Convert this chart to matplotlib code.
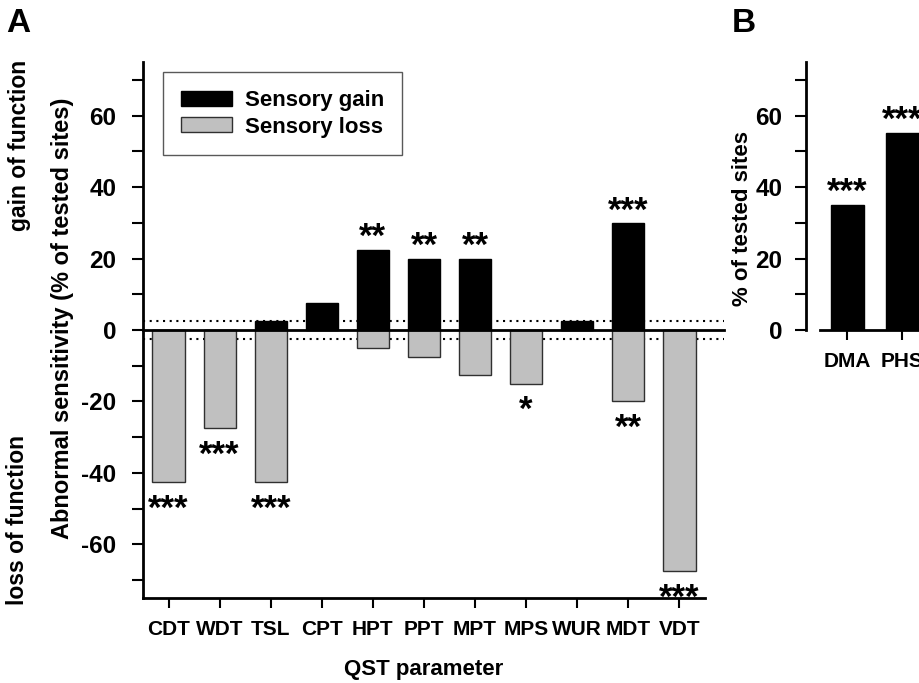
import matplotlib
matplotlib.use("Agg")
import matplotlib.pyplot as plt
from matplotlib.patches import Patch

plt.rcParams['font.family'] = ['Liberation Sans', 'DejaVu Sans']
plt.rcParams['font.weight'] = 'bold'

# ---- data ----
params = ["CDT", "WDT", "TSL", "CPT", "HPT", "PPT", "MPT", "MPS", "WUR", "MDT", "VDT"]
gain = [0, 0, 2.5, 7.5, 22.5, 20, 20, 0, 2.5, 30, 0]
loss = [-42.5, -27.5, -42.5, 0, -5, -7.5, -12.5, -15, 0, -20, -67.5]
gain_sig = ["", "", "", "", "**", "**", "**", "", "", "***", ""]
loss_sig = ["***", "***", "***", "", "", "", "", "*", "", "**", "***"]
threshold = 2.5

b_cats = ["DMA", "PHS"]
b_vals = [35, 55]
b_sig = ["***", "***"]

W, H = 920, 683
fig = plt.figure(figsize=(W / 100, H / 100), dpi=100)

def fx(px):
    return px / W

def fy(py):
    return 1 - py / H

# ---- panel A ----
axA = fig.add_axes([fx(143), fy(598), fx(705) - fx(143), fy(62) - fy(598)])
x = list(range(len(params)))
bw = 0.63
axA.bar(x, gain, width=bw, color="black", edgecolor="black", linewidth=1, zorder=3)
axA.bar(x, loss, width=bw, color="#c0c0c0", edgecolor="#303030", linewidth=1, zorder=3)

xr = 10.88
axA.plot([-0.5, xr], [0, 0], color="black", lw=2, clip_on=False, zorder=4)
axA.plot([-0.5, xr], [threshold, threshold], color="black", lw=1.5, ls=(0, (1, 2.2)),
         clip_on=False, zorder=2)
axA.plot([-0.5, xr], [-threshold, -threshold], color="black", lw=1.5, ls=(0, (1, 2.2)),
         clip_on=False, zorder=2)

for i in x:
    if gain_sig[i]:
        axA.text(i, gain[i] - 1.3, gain_sig[i], ha="center", va="bottom",
                 fontsize=25, fontweight="bold")
    if loss_sig[i]:
        axA.text(i, loss[i] - 3.0, loss_sig[i], ha="center", va="top",
                 fontsize=25, fontweight="bold")

axA.set_xlim(-0.5, 10.5)
axA.set_ylim(-75, 75)
axA.set_xticks(x)
axA.set_xticklabels(params)
axA.set_yticks([-60, -40, -20, 0, 20, 40, 60])
axA.set_yticklabels(["-60", "-40", "-20", "0", "20", "40", "60"])
axA.set_yticks([-70, -50, -30, -10, 10, 30, 50, 70], minor=True)
axA.tick_params(axis="y", which="both", direction="out", length=8, width=1.5, pad=11,
                labelsize=17.5)
axA.tick_params(axis="x", direction="out", length=7, width=1.5, pad=9, labelsize=15)
for s in ["top", "right"]:
    axA.spines[s].set_visible(False)
for s in ["left", "bottom"]:
    axA.spines[s].set_linewidth(2)

handles = [Patch(facecolor="black", edgecolor="black", label="Sensory gain"),
           Patch(facecolor="#c0c0c0", edgecolor="#303030", label="Sensory loss")]
leg = axA.legend(handles=handles, loc="upper left", bbox_to_anchor=(0.0356, 0.981),
                 borderaxespad=0, fancybox=False, frameon=True, handlelength=2.3,
                 handleheight=0.65, prop={"size": 16, "weight": "bold"},
                 borderpad=0.8, labelspacing=0.25, handletextpad=0.6)
leg.get_frame().set_edgecolor("#303030")
leg.get_frame().set_linewidth(1)

fig.text(fx(63), fy(318), "Abnormal sensitivity (% of tested sites)", rotation=90,
         ha="center", va="center", fontsize=17, fontweight="bold")
fig.text(fx(20), fy(145), "gain of function", rotation=90, ha="center", va="center",
         fontsize=16.5, fontweight="bold")
fig.text(fx(18), fy(520), "loss of function", rotation=90, ha="center", va="center",
         fontsize=16.5, fontweight="bold")
fig.text(fx(424), fy(670), "QST parameter", ha="center", va="center",
         fontsize=16, fontweight="bold")
fig.text(fx(6), fy(8), "A", ha="left", va="top", fontsize=24, fontweight="bold")
fig.text(fx(732), fy(8), "B", ha="left", va="top", fontsize=24, fontweight="bold")

# ---- panel B ----
axB = fig.add_axes([fx(820), fy(330), fx(110), fy(62) - fy(330)])
axB.spines["left"].set_position(("outward", 10))
xb = list(range(len(b_cats)))
axB.bar(xb, b_vals, width=0.6, color="black", edgecolor="black", zorder=3)
for i in xb:
    axB.text(i, b_vals[i] - 1.0, b_sig[i], ha="center", va="bottom",
             fontsize=25, fontweight="bold")
axB.set_xlim(-0.5, 1.5)
axB.set_ylim(0, 75)
axB.set_xticks(xb)
axB.set_xticklabels(b_cats)
axB.set_yticks([0, 20, 40, 60])
axB.set_yticklabels(["0", "20", "40", "60"])
axB.set_yticks([10, 30, 50, 70], minor=True)
axB.tick_params(axis="y", which="both", direction="out", length=8, width=1.5, pad=9,
                labelsize=17.5)
axB.tick_params(axis="x", direction="out", length=7, width=1.5, pad=9, labelsize=15)
for s in ["top", "right"]:
    axB.spines[s].set_visible(False)
for s in ["left", "bottom"]:
    axB.spines[s].set_linewidth(2)
fig.text(fx(743), fy(218), "% of tested sites", rotation=90, ha="center", va="center",
         fontsize=16, fontweight="bold")

fig.savefig("out.png", dpi=100)
